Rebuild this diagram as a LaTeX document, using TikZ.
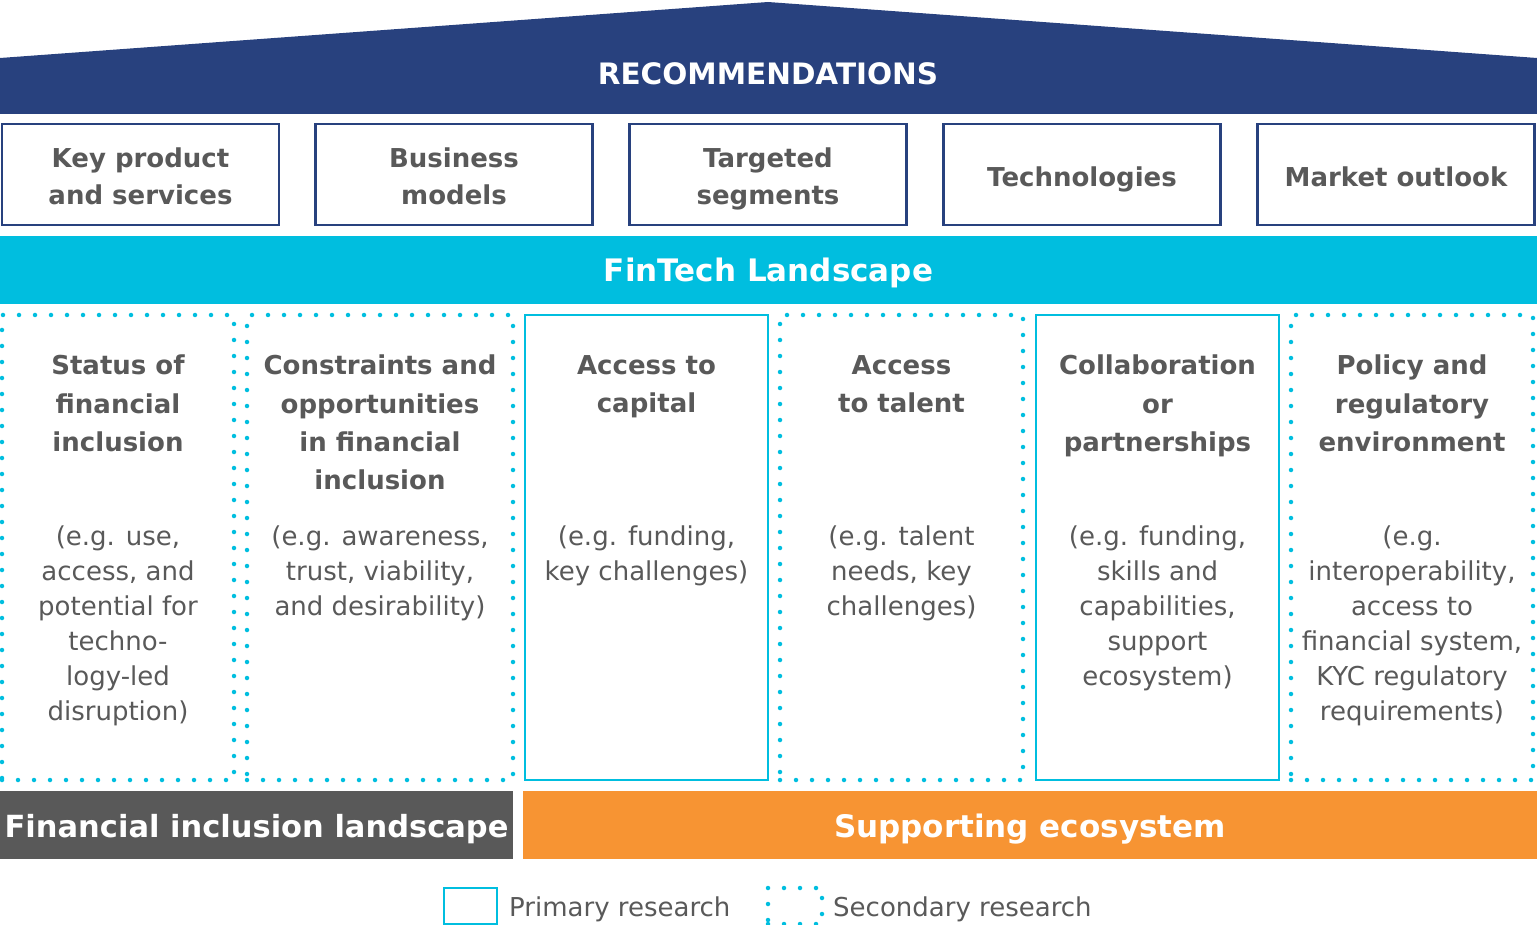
\documentclass[tikz,border=0pt]{standalone}
\usepackage{fontspec}
\setmainfont{DejaVu Sans}
\definecolor{navy}{RGB}{40,65,126}
\definecolor{fincyan}{RGB}{0,190,223}
\definecolor{finorange}{RGB}{247,148,51}
\definecolor{bargrey}{RGB}{89,89,89}
\definecolor{txtgrey}{RGB}{89,89,89}
\tikzset{
  topbox/.style={draw=navy, line width=2.2pt, minimum width=277pt, minimum height=101pt, inner sep=0pt},
  toptext/.style={inner sep=0pt, align=center, text=txtgrey, font=\bfseries\fontsize{26}{37}\selectfont,
    execute at begin node=\strut, execute at end node=\strut},
  bar/.style={minimum height=68pt, inner sep=0pt, text=white, text height=26pt, text depth=2pt,
    font=\bfseries\fontsize{31}{36}\selectfont},
  primary/.style={draw=fincyan, line width=2.5pt},
  secondary/.style={draw=fincyan, line width=4.5pt, line cap=round, dash pattern=on 0pt off 16pt},
  colhead/.style={anchor=north, inner sep=0pt, align=center, text=txtgrey,
    font=\bfseries\fontsize{26}{38.3}\selectfont},
  colbody/.style={anchor=north, inner sep=0pt, align=center, text=txtgrey,
    font=\fontsize{26}{35}\selectfont},
  legtext/.style={anchor=west, inner sep=0pt, text=txtgrey, font=\fontsize{26}{30}\selectfont}
}
\begin{document}
\begin{tikzpicture}[x=1pt, y=-1pt]
    \useasboundingbox (0,0) rectangle (1537,925);

    % roof
    \fill[navy] (0,58) -- (768,2) -- (1537,58) -- (1537,114) -- (0,114) -- cycle;
    \node[text=white, font=\bfseries\fontsize{29.5}{34}\selectfont] (reco) at (768,74) {RECOMMENDATIONS};

    \foreach \n/\x/\y/\txt in {kps/140.5/182/{Key product\\and services}, bmod/454/182/{Business\\models},
        tseg/768/182/{Targeted\\segments}, tech/1082/179/{Technologies}, mout/1396/179/{Market outlook}}
    {
        \node[topbox] (\n) at (\x,174.5) {};
        \node[toptext] (\n-txt) at (\x,\y) {\txt};
    }

    \node[bar, fill=fincyan, minimum width=1537pt] (fintech) at (768.5,270) {FinTech Landscape};

    % research columns
    \foreach \n/\x/\w/\sty/\head/\body in {
        stat/118/232/secondary/{Status of\\financial\\inclusion}/{(e.g. use,\\access, and\\potential for\\techno-\\logy-led\\disruption)},
        cons/380/266/secondary/{Constraints and\\opportunities\\in financial\\inclusion}/{(e.g. awareness,\\trust, viability,\\and desirability)},
        capi/646.5/243/primary/{Access to\\capital}/{(e.g. funding,\\key challenges)},
        tale/901.5/243/secondary/{Access\\to talent}/{(e.g. talent\\needs, key\\challenges)},
        coll/1157.5/243/primary/{Collaboration\\or\\partnerships}/{(e.g. funding,\\skills and\\capabilities,\\support\\ecosystem)},
        poli/1412/242/secondary/{Policy and\\regulatory\\environment}/{(e.g.\\interoperability,\\access to\\financial system,\\KYC regulatory\\requirements)}}
    {
        \node[\sty, minimum width=\w pt, minimum height=465pt, inner sep=0pt] (\n) at (\x,547.5) {};
        \node[colhead] (\n-head) at (\x,355) {\head};
        \node[colbody] (\n-body) at (\x,526) {\body};
    }

    \node[bar, fill=bargrey, minimum width=513pt, font=\bfseries\fontsize{30.5}{36}\selectfont] (fil) at (256.5,825) {Financial inclusion landscape};
    \node[bar, fill=finorange, minimum width=1014pt] (sup) at (1030,825) {Supporting ecosystem};

    % legend
    \node[primary, minimum width=53pt, minimum height=36pt, inner sep=0pt] (legprim) at (470.5,906) {};
    \node[legtext] (legprimtxt) at (509,909) {Primary research};
    \node[secondary, minimum width=54pt, minimum height=36pt, inner sep=0pt] (legsec) at (795,906) {};
    \node[legtext] (legsectxt) at (833,909) {Secondary research};
\end{tikzpicture}
\end{document}
